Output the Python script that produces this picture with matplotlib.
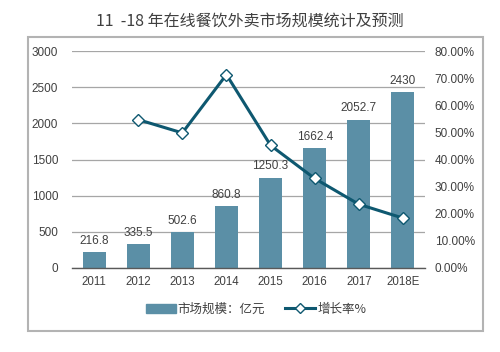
import matplotlib
matplotlib.use("Agg")
import matplotlib.pyplot as plt
from matplotlib.patches import Rectangle
from matplotlib.lines import Line2D
from matplotlib.ticker import FuncFormatter

plt.rcParams['font.family'] = ['Liberation Sans', 'Noto Sans CJK SC', 'DejaVu Sans']

years = ["2011", "2012", "2013", "2014", "2015", "2016", "2017", "2018E"]
market = [216.8, 335.5, 502.6, 860.8, 1250.3, 1662.4, 2052.7, 2430]
growth_years = ["2012", "2013", "2014", "2015", "2016", "2017", "2018E"]
growth = [54.7, 49.8, 71.3, 45.2, 33.0, 23.5, 18.4]
title = "11  -18 年在线餐饮外卖市场规模统计及预测"
legend_labels = ["市场规模：亿元", "增长率%"]

bar_color = "#5b8fa6"
line_color = "#0e5870"
txt = "#404040"

fig = plt.figure(figsize=(5, 3.52), dpi=100)
W, H = 500, 352
ax = fig.add_axes([72 / W, 1 - 268 / H, (425 - 72) / W, (268 - 51) / H])
ax2 = ax.twinx()

x = list(range(len(years)))
ax.bar(x, market, width=0.52, color=bar_color, zorder=2)
for xi, v in zip(x, market):
    ax.text(xi, v + 70, f"{v:g}", ha="center", va="bottom", fontsize=8.5, color=txt)

ax.set_ylim(0, 3000)
ax.set_yticks(range(0, 3001, 500))
ax.set_xlim(-0.5, len(years) - 0.5)
ax.set_xticks(x)
ax.set_xticklabels(years)
ax.grid(axis="y", color="#a6a6a6", linewidth=0.9, zorder=0)
ax.set_axisbelow(True)
for s in ["left", "right", "top"]:
    ax.spines[s].set_visible(False)
ax.spines["bottom"].set_color("#595959")
ax.spines["bottom"].set_linewidth(1.0)
ax.tick_params(axis="x", length=0, labelsize=8.3, colors=txt, pad=6)
ax.tick_params(axis="y", length=0, labelsize=8.5, colors=txt, pad=10)

gx = [years.index(y) for y in growth_years]
ax2.plot(gx, growth, color=line_color, linewidth=2.2, marker="D", markersize=6,
         markerfacecolor="white", markeredgecolor=line_color, markeredgewidth=1.0, zorder=5)
ax2.set_ylim(0, 80)
ax2.set_yticks(range(0, 81, 10))
ax2.yaxis.set_major_formatter(FuncFormatter(lambda v, p: f"{v:.2f}%"))
for s in ["left", "right", "top", "bottom"]:
    ax2.spines[s].set_visible(False)
ax2.tick_params(axis="y", length=0, labelsize=8.5, colors=txt, pad=7)

fig.text(0.5, 1 - 21 / H, title, ha="center", va="center", fontsize=11.5, color=txt,
         family=['Noto Sans CJK SC', 'DejaVu Sans'])

# outer border
fig.patches.append(Rectangle((28 / W, 1 - 331 / H), (483 - 28) / W, (331 - 37) / H,
                             transform=fig.transFigure, fill=False,
                             edgecolor="#b3b3b3", linewidth=1.5))

handles = [Rectangle((0, 0), 1, 1, color=bar_color),
           Line2D([0], [0], color=line_color, linewidth=2.2, marker="D", markersize=5,
                  markerfacecolor="white", markeredgecolor=line_color, markeredgewidth=1.0)]
fig.legend(handles, legend_labels, loc="center", bbox_to_anchor=(256 / W, 1 - 309 / H),
           ncol=2, frameon=False, handlelength=2.4, handletextpad=0.15,
           columnspacing=1.6, labelcolor=txt, prop={'family': ['Noto Sans CJK SC'], 'size': 9})

fig.savefig("out.png", dpi=100)
